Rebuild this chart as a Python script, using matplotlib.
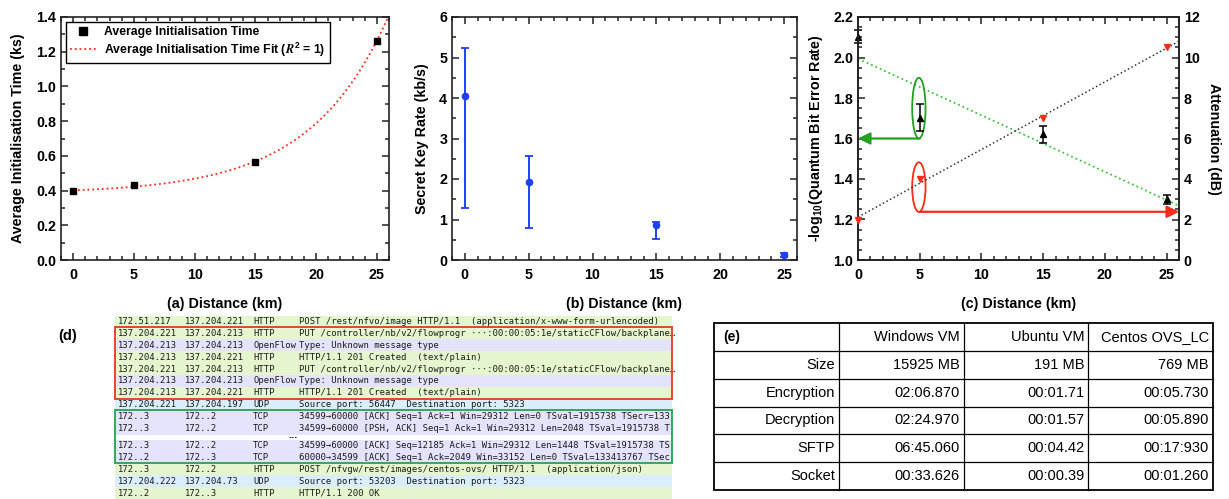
import numpy as np
import matplotlib
matplotlib.use('Agg')
import matplotlib.pyplot as plt
from matplotlib.patches import Ellipse, Rectangle
from matplotlib.ticker import MultipleLocator

# ---------------- data ----------------
distance = [0, 5, 15, 25]
init_time = [0.395, 0.430, 0.567, 1.264]

skr = [4.04, 1.92, 0.87, 0.115]
skr_low = [1.28, 0.78, 0.51, 0.066]
skr_high = [5.23, 2.57, 0.94, 0.165]

qber = [2.10, 1.70, 1.62, 1.30]
qber_low = [2.07, 1.637, 1.576, 1.275]
qber_high = [2.135, 1.769, 1.662, 1.322]
attenuation = [2.0, 4.0, 7.0, 10.5]

packet_src = ['172.51.217', '137.204.221', '137.204.213', '137.204.213', '137.204.221',
              '137.204.213', '137.204.213', '137.204.221', '172..3', '172..3',
              '172..3', '172..2', '172..3', '137.204.222', '172..2']
packet_dst = ['137.204.221', '137.204.213', '137.204.213', '137.204.221', '137.204.213',
              '137.204.213', '137.204.221', '137.204.197', '172..2', '172..2',
              '172..2', '172..3', '172..2', '137.204.73', '172..3']
packet_proto = ['HTTP', 'HTTP', 'OpenFlow', 'HTTP', 'HTTP', 'OpenFlow', 'HTTP', 'UDP',
                'TCP', 'TCP', 'TCP', 'TCP', 'HTTP', 'UDP', 'HTTP']
packet_info = [
    'POST /rest/nfvo/image HTTP/1.1  (application/x-www-form-urlencoded)',
    'PUT /controller/nb/v2/flowprogr \u00b7\u00b7\u00b7:00:00:05:1e/staticCFlow/backplane\u2026',
    'Type: Unknown message type',
    'HTTP/1.1 201 Created  (text/plain)',
    'PUT /controller/nb/v2/flowprogr \u00b7\u00b7\u00b7:00:00:05:1e/staticCFlow/backplane\u2026',
    'Type: Unknown message type',
    'HTTP/1.1 201 Created  (text/plain)',
    'Source port: 56447  Destination port: 5323',
    '34599\u219260000 [ACK] Seq=1 Ack=1 Win=29312 Len=0 TSval=1915738 TSecr=133',
    '34599\u219260000 [PSH, ACK] Seq=1 Ack=1 Win=29312 Len=2048 TSval=1915738 T',
    '34599\u219260000 [ACK] Seq=12185 Ack=1 Win=29312 Len=1448 TSval=1915738 TS',
    '60000\u219234599 [ACK] Seq=1 Ack=2049 Win=33152 Len=0 TSval=133413767 TSec',
    'POST /nfvgw/rest/images/centos-ovs/ HTTP/1.1  (application/json)',
    'Source port: 53203  Destination port: 5323',
    'HTTP/1.1 200 OK',
]

table_header = ['(e)', 'Windows VM', 'Ubuntu VM', 'Centos OVS_LC']
table_rows = ['Size', 'Encryption', 'Decryption', 'SFTP', 'Socket']
windows_vm = ['15925 MB', '02:06.870', '02:24.970', '06:45.060', '00:33.626']
ubuntu_vm = ['191 MB', '00:01.71', '00:01.57', '00:04.42', '00:00.39']
centos_ovs = ['769 MB', '00:05.730', '00:05.890', '00:17:930', '00:01.260']

# ---------------- style ----------------
plt.rcParams['font.family'] = ['Liberation Sans', 'DejaVu Sans']
plt.rcParams['font.weight'] = 'bold'
plt.rcParams['axes.labelweight'] = 'bold'
plt.rcParams['font.size'] = 10.3
plt.rcParams['mathtext.fontset'] = 'stix'
plt.rcParams['mathtext.default'] = 'regular'

W, H = 1229, 499
fig = plt.figure(figsize=(W / 100, H / 100), dpi=100)


def pos(l, r, t, b):
    return [l / W, 1 - b / H, (r - l) / W, (b - t) / H]


def style(ax, right=True):
    for s in ax.spines.values():
        s.set_linewidth(1.2)
        s.set_color('#222222')
    ax.tick_params(which='both', direction='in', top=True, right=right,
                   width=1.1, color='#222222', labelcolor='black')
    ax.tick_params(which='major', length=5)
    ax.tick_params(which='minor', length=2.8)
    ax.tick_params(axis='x', pad=5.5)
    ax.tick_params(axis='y', pad=3.5)


red = '#ff2a1a'
blue = '#1f3fff'
green_dark = '#22a022'
green_light = '#3cc43c'

# ---------------- (a) ----------------
axa = fig.add_axes(pos(61, 389, 17, 260))
x = np.array(distance, float)
y = np.array(init_time)
best = None
for t in np.linspace(2, 40, 4000):
    X = np.column_stack([np.ones_like(x), np.exp(x / t)])
    coef = np.linalg.lstsq(X, y, rcond=None)[0]
    r = np.sum((X @ coef - y) ** 2)
    if best is None or r < best[0]:
        best = (r, t, coef)
_, tfit, cfit = best
xf = np.linspace(0, 26, 400)
yf = cfit[0] + cfit[1] * np.exp(xf / tfit)
axa.plot(distance, init_time, 's', color='black', ms=4.2, zorder=3,
         label='Average Initialisation Time')
axa.plot(xf, yf, ':', color=red, lw=1.3, zorder=2,
         label=r'Average Initialisation Time Fit ($\mathit{R}^{2}$ = 1)')
axa.set_xlim(-1, 26)
axa.set_ylim(0, 1.4)
axa.xaxis.set_major_locator(MultipleLocator(5))
axa.xaxis.set_minor_locator(MultipleLocator(1))
axa.yaxis.set_major_locator(MultipleLocator(0.2))
axa.yaxis.set_minor_locator(MultipleLocator(0.1))
style(axa)
axa.set_xlabel('(a) Distance (km)')
axa.xaxis.set_label_coords(0.5, -0.152)
axa.set_ylabel('Average Initialisation Time (ks)')
axa.yaxis.set_label_coords(-0.11, 0.5)
leg = axa.legend(loc='upper left', fontsize=8.8, frameon=True, fancybox=False,
                 edgecolor='black', framealpha=1, borderaxespad=0.38,
                 handlelength=2.2, handletextpad=0.6, labelspacing=0.2,
                 borderpad=0.35, markerscale=1.3)
leg.get_frame().set_linewidth(1.0)

# ---------------- (b) ----------------
axb = fig.add_axes(pos(452, 797, 17, 260))
yerr = [np.array(skr) - np.array(skr_low), np.array(skr_high) - np.array(skr)]
axb.errorbar(distance, skr, yerr=yerr, fmt='o', color=blue, ms=4.5, lw=1.4,
             capsize=3, capthick=1.3, zorder=3)
axb.set_xlim(-1, 26)
axb.set_ylim(0, 6)
axb.xaxis.set_major_locator(MultipleLocator(5))
axb.xaxis.set_minor_locator(MultipleLocator(1))
axb.yaxis.set_major_locator(MultipleLocator(1))
axb.yaxis.set_minor_locator(MultipleLocator(0.5))
style(axb)
axb.set_xlabel('(b) Distance (km)')
axb.xaxis.set_label_coords(0.5, -0.152)
axb.set_ylabel('Secret Key Rate (kb/s)')
axb.yaxis.set_label_coords(-0.067, 0.5)

# ---------------- (c) ----------------
axc = fig.add_axes(pos(858, 1179, 17, 260))
axc2 = axc.twinx()
qerr = [np.array(qber) - np.array(qber_low), np.array(qber_high) - np.array(qber)]
axc.errorbar(distance, qber, yerr=qerr, fmt='^', color='black', ms=4.5, lw=1.1,
             capsize=3, capthick=1.1, zorder=4, clip_on=False)
pq = np.polyfit(distance, qber, 1)
xl = np.linspace(0, 26, 50)
axc.plot(xl, np.polyval(pq, xl), ':', color=green_light, lw=1.3, zorder=2)
pa = np.polyfit(distance, attenuation, 1)
axc2.plot(xl, np.polyval(pa, xl), ':', color='#333333', lw=1.1, zorder=2)
axc2.plot(distance, attenuation, 'v', color=red, ms=5, zorder=4, clip_on=False)

axc.set_xlim(0, 26)
axc.set_ylim(1.0, 2.2)
axc2.set_ylim(0, 12)
axc.xaxis.set_major_locator(MultipleLocator(5))
axc.xaxis.set_minor_locator(MultipleLocator(1))
axc.yaxis.set_major_locator(MultipleLocator(0.2))
axc.yaxis.set_minor_locator(MultipleLocator(0.05))
axc2.yaxis.set_major_locator(MultipleLocator(2))
axc2.yaxis.set_minor_locator(MultipleLocator(0.5))
style(axc, right=False)
for s in axc2.spines.values():
    s.set_linewidth(1.2)
    s.set_color('#222222')
axc2.tick_params(which='both', direction='in', width=1.1, color='#222222',
                 labelcolor='black', pad=3.5)
axc2.tick_params(which='major', length=5)
axc2.tick_params(which='minor', length=2.8)

# annotations: ellipses and arrows
xe = distance[1] - 0.07
axc.add_patch(Ellipse((xe, 1.75), 1.08, 0.30, fill=False, ec=green_dark, lw=1.3, zorder=3))
axc.add_patch(Ellipse((xe, 1.36), 1.08, 0.245, fill=False, ec=red, lw=1.3, zorder=3))
axc.annotate('', xy=(0, 1.60), xytext=(distance[1], 1.60),
             arrowprops=dict(arrowstyle='-|>', color=green_dark, lw=1.6,
                             mutation_scale=18, shrinkA=0, shrinkB=0),
             annotation_clip=False, zorder=3)
axc.annotate('', xy=(26, 1.238), xytext=(distance[1], 1.238),
             arrowprops=dict(arrowstyle='-|>', color=red, lw=1.6,
                             mutation_scale=18, shrinkA=0, shrinkB=0),
             annotation_clip=False, zorder=3)

axc.set_xlabel('(c) Distance (km)')
axc.xaxis.set_label_coords(0.5, -0.152)
axc.set_ylabel(r'-log$_{10}$(Quantum Bit Error Rate)')
axc.yaxis.set_label_coords(-0.103, 0.5)
axc2.set_ylabel('Attenuation (dB)', rotation=270, va='bottom')
axc2.yaxis.set_label_coords(1.086, 0.5)

# ---------------- overlay for (d) and (e) ----------------
ov = fig.add_axes([0, 0, 1, 1], zorder=-1)
ov.set_xlim(0, W)
ov.set_ylim(H, 0)
ov.axis('off')

# (d) packet list
ov.text(68, 336, '(d)', ha='center', va='center', fontsize=10.5, fontweight='bold')
row_colours = {'HTTP': '#e5f6cf', 'OpenFlow': '#e4e3fb', 'UDP': '#daedfa', 'TCP': '#e4e3fb'}
x0, x1 = 115, 672
rh = 11.9
col_x = [118, 185, 253, 299]
tops = []
for i in range(len(packet_src)):
    top = 315.5 + rh * i + (5 if i >= 10 else 0)
    tops.append(top)
    ov.add_patch(Rectangle((x0, top), x1 - x0, rh, fc=row_colours[packet_proto[i]],
                           ec='none', zorder=1, clip_on=True))
    cy = top + rh / 2
    for cx, txt in zip(col_x, [packet_src[i], packet_dst[i], packet_proto[i], packet_info[i]]):
        ov.text(cx, cy, txt, ha='left', va='center', fontsize=6.4,
                family='DejaVu Sans Mono', fontweight='normal', color='#1a1a1a', zorder=2)
ov.text(293, tops[10] - 4, '...', ha='center', va='center', fontsize=8,
        fontweight='bold', color='#222222')
ov.add_patch(Rectangle((x0, tops[1] - 0.5), x1 - x0, tops[7] - tops[1] + 0.5,
                       fill=False, ec='#e8452c', lw=1.4, zorder=3))
ov.add_patch(Rectangle((x0, tops[8] - 0.5), x1 - x0, tops[12] - tops[8] + 0.5,
                       fill=False, ec='#2eaa5a', lw=1.4, zorder=3))

# (e) table
tl, tr, tt, tb = 714, 1213, 323, 490
ncol = len(table_header)
nrow = len(table_rows) + 1
cw = (tr - tl) / ncol
rhh = (tb - tt) / nrow
cells = [table_header] + [[r, a, b, c] for r, a, b, c in zip(table_rows, windows_vm, ubuntu_vm, centos_ovs)]
for j in range(1, nrow):
    ov.plot([tl, tr], [tt + j * rhh] * 2, color='black', lw=0.9)
for k in range(1, ncol):
    ov.plot([tl + k * cw] * 2, [tt, tb], color='black', lw=0.9)
ov.add_patch(Rectangle((tl, tt), tr - tl, tb - tt, fill=False, ec='black', lw=1.3))
for j, row in enumerate(cells):
    cy = tt + (j + 0.5) * rhh
    for k, txt in enumerate(row):
        if j == 0 and k == 0:
            ov.text(tl + 9, cy, txt, ha='left', va='center', fontsize=10, fontweight='bold')
        else:
            ov.text(tl + (k + 1) * cw - 4, cy, txt, ha='right', va='center',
                    fontsize=10.5, fontweight='normal')

fig.savefig('out.png', dpi=100)
